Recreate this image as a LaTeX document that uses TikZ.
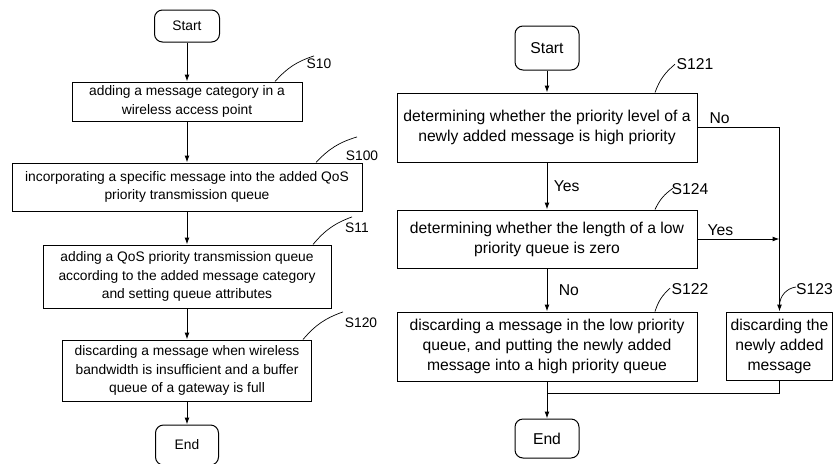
\documentclass[tikz,border=0pt]{standalone}
\usepackage{fontspec}
\setmainfont{Liberation Sans}
\usepackage{tikz}
\usetikzlibrary{arrows.meta}
\tikzstyle{box}=[rectangle,draw,line width=1pt,align=center,inner sep=0pt]
\tikzstyle{term}=[rectangle,draw,rounded corners=8pt,line width=1pt,inner sep=0pt]
\tikzstyle{flow}=[-{Latex[length=7pt,width=5pt]},line width=1pt]
\tikzstyle{line}=[line width=1pt]
\tikzstyle{tag}=[line width=0.7pt]
\tikzstyle{lft}=[font=\fontsize{13.8}{18.3}\selectfont]
\tikzstyle{rgt}=[font=\fontsize{15.7}{20}\selectfont]
\tikzstyle{num}=[inner sep=0pt]

\begin{document}
\begin{tikzpicture}[x=1pt,y=1pt]
  \useasboundingbox (0,0) rectangle (834,-463);

  % left chart
  \node[term,lft,minimum width=65pt,minimum height=32pt] (lstart) at (187,-26) {Start};
  \node[box,lft,minimum width=230pt,minimum height=39pt] (s10) at (187,-101.5) {adding a message category in a\\wireless access point};
  \node[box,lft,minimum width=350pt,minimum height=48pt] (s100) at (187,-187) {incorporating a specific message into the added QoS\\priority transmission queue};
  \node[box,lft,minimum width=288pt,minimum height=63pt] (s11) at (187,-276.5) {adding a QoS priority transmission queue\\according to the added message category\\and setting queue attributes};
  \node[box,lft,minimum width=249pt,minimum height=61pt] (s120) at (187,-370.5) {discarding a message when wireless\\bandwidth is insufficient and a buffer\\queue of a gateway is full};
  \node[term,lft,minimum width=63pt,minimum height=40pt] (lend) at (187,-445) {End};

  \draw[flow] (lstart)--(s10); \draw[flow] (s10)--(s100); \draw[flow] (s100)--(s11);
  \draw[flow] (s11)--(s120); \draw[flow] (s120)--(lend);

  \node[num,lft] (t10) at (319,-64) {S10};
  \node[num,lft] (t100) at (362,-156) {S100};
  \node[num,lft] (t11) at (357,-228) {S11};
  \node[num,lft] (t120) at (361,-323) {S120};
  \draw[tag] ([xshift=88pt]s10.north) to[bend left=15] ([xshift=-5pt,yshift=3pt]t10.north);
  \draw[tag] ([xshift=129pt]s100.north) to[bend left=15] ([xshift=-5pt,yshift=14pt]t100.north);
  \draw[tag] ([xshift=126pt]s11.north) to[bend left=15] ([xshift=-5pt,yshift=6pt]t11.north);
  \draw[tag] ([xshift=116pt]s120.north) to[bend left=15] ([xshift=-18pt,yshift=6pt]t120.north);

  % right chart
  \node[term,rgt,minimum width=64pt,minimum height=44pt] (rstart) at (547,-48) {Start};
  \node[box,rgt,minimum width=300pt,minimum height=69pt] (s121) at (547,-127.5) {determining whether the priority level of a\\newly added message is high priority};
  \node[box,rgt,minimum width=300pt,minimum height=58pt] (s124) at (547,-239) {determining whether the length of a low\\priority queue is zero};
  \node[box,rgt,minimum width=300pt,minimum height=69pt] (s122) at (547,-346.5) {discarding a message in the low priority\\queue, and putting the newly added\\message into a high priority queue};
  \node[box,rgt,minimum width=106pt,minimum height=68pt] (s123) at (779.5,-346) {discarding the\\newly added\\message};
  \node[term,rgt,minimum width=64pt,minimum height=39pt] (rend) at (547,-438.5) {End};

  \coordinate (ncorner) at (s123.north |- s121.east);
  \coordinate (join) at ([yshift=-12pt]s122.south);

  \draw[flow] (rstart)--(s121);
  \draw[flow] (s121)--node[right,xshift=3pt,rgt]{Yes}(s124);
  \draw[flow] (s124)--node[right,xshift=8pt,rgt]{No}(s122);
  \draw[flow] (s121.east)--node[above,pos=0.27,rgt]{No}(ncorner)--(s123.north);
  \draw[flow] (s124.east)--node[above,pos=0.28,rgt]{Yes}(s124.east -| s123.north);
  \draw[line] (s122.south)--(join);
  \draw[line] (s123.south) |- (join);
  \draw[flow] (join)--(rend);

  \node[num,rgt] (t121) at (695,-64) {S121};
  \node[num,rgt] (t124) at (690,-189) {S124};
  \node[num,rgt] (t122) at (690,-289) {S122};
  \node[num,rgt,anchor=west] (t123) at (796,-289) {S123};
  \draw[tag] ([xshift=108pt]s121.north) to[bend left=15] ([xshift=-20pt,yshift=-6pt]t121.north);
  \draw[tag] ([xshift=108pt]s124.north) to[bend left=15] ([xshift=-17pt,yshift=-5pt]t124.north);
  \draw[tag] ([xshift=108pt]s122.north) to[bend left=15] ([xshift=-20pt,yshift=-5pt]t122.north);
  \draw[tag] ([yshift=6pt]s123.north) to[bend left=40] ([yshift=2pt]t123.west);
\end{tikzpicture}
\end{document}
